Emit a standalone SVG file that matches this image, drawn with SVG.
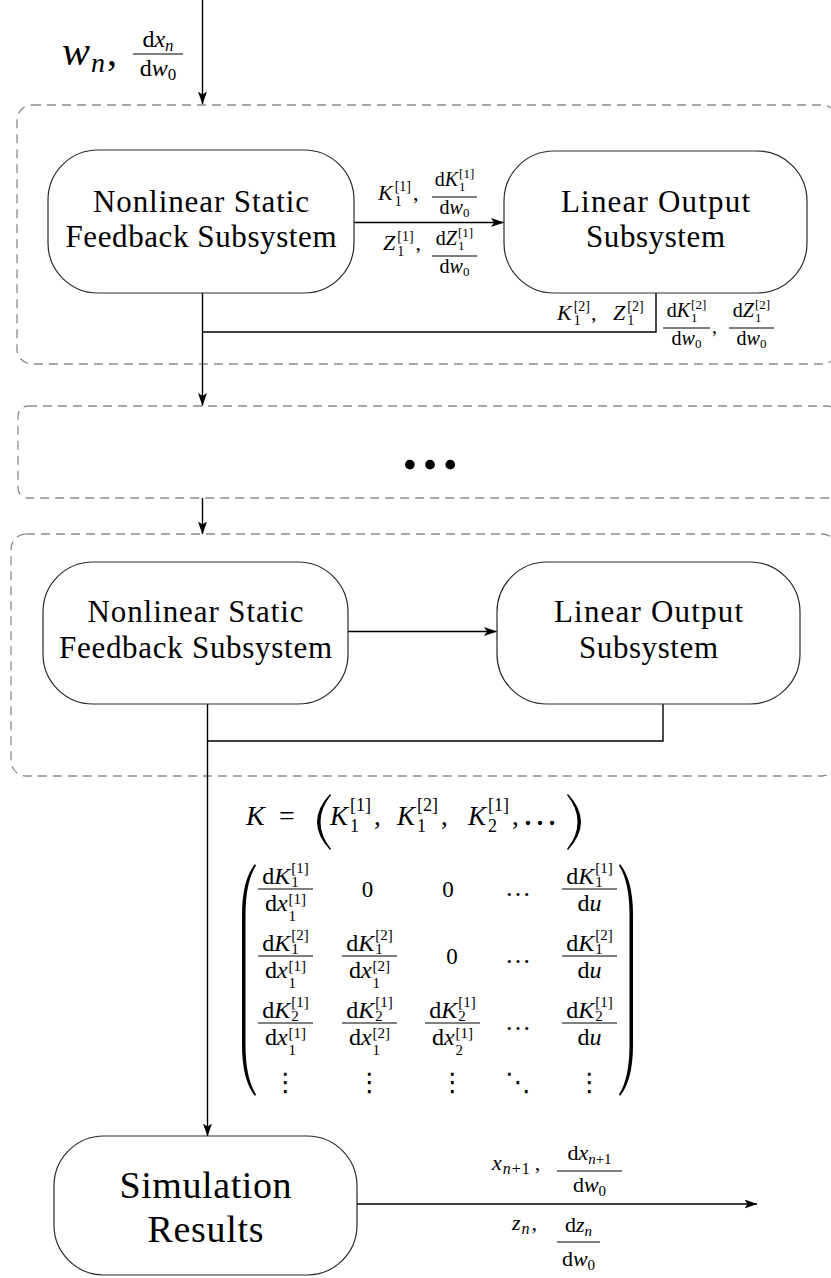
<svg xmlns="http://www.w3.org/2000/svg" width="831" height="1278" viewBox="0 0 831 1278">
<defs>
<marker id="ah" viewBox="0 0 13 9" refX="12.5" refY="4.5" markerWidth="13" markerHeight="9" markerUnits="userSpaceOnUse" orient="auto">
<path d="M0,0 L13,4.5 L0,9 L3,4.5 Z" fill="#000"/>
</marker>
<style>
.t{font-family:"Liberation Serif","Times New Roman",serif;fill:#000}
.i{font-style:italic}
.c{text-anchor:middle}
.grp{fill:none;stroke:#8c8c8c;stroke-width:1.3;stroke-dasharray:9 6}
.node{fill:#fff;stroke:#2a2a2a;stroke-width:1.2}
.ln{fill:none;stroke:#000;stroke-width:1.4}
.bar{stroke:#000;stroke-width:1.1}
.big{font-size:31px}
.dots{font-family:"DejaVu Serif","DejaVu Sans",serif;fill:#000;text-anchor:middle}
</style>
</defs>
<rect x="0" y="0" width="831" height="1278" fill="#fff"/>

<g id="group1"><rect class="grp" x="17" y="105" width="820" height="259" rx="15"/></g>
<g id="group2"><rect class="grp" x="18" y="406" width="819" height="92" rx="10"/>
<text class="t c" x="430" y="469" font-size="60" font-weight="bold">…</text></g>
<g id="group3"><rect class="grp" x="11" y="534" width="826" height="242" rx="15"/></g>

<g id="connectors">
<line class="ln" x1="202.5" y1="0" x2="202.5" y2="104" marker-end="url(#ah)"/>
<line class="ln" x1="354" y1="222.5" x2="503.5" y2="222.5" marker-end="url(#ah)"/>
<line class="ln" x1="202.5" y1="293" x2="202.5" y2="405.5" marker-end="url(#ah)"/>
<polyline class="ln" points="202.5,332 656,332 656,293"/>
<line class="ln" x1="202.5" y1="498" x2="202.5" y2="534" marker-end="url(#ah)"/>
<line class="ln" x1="348" y1="631.5" x2="496.5" y2="631.5" marker-end="url(#ah)"/>
<line class="ln" x1="207.5" y1="704" x2="207.5" y2="1136" marker-end="url(#ah)"/>
<polyline class="ln" points="207.5,741 663,741 663,704"/>
<line class="ln" x1="357" y1="1204" x2="757" y2="1204" marker-end="url(#ah)"/>
</g>

<g id="nsf1"><rect class="node" x="48" y="150" width="306" height="143" rx="50"/>
<text class="t c big" x="201" y="212" textLength="216">Nonlinear Static</text>
<text class="t c big" x="201" y="247" textLength="271">Feedback Subsystem</text></g>
<g id="lo1"><rect class="node" x="504" y="151" width="303" height="142" rx="50"/>
<text class="t c big" x="655.5" y="212" textLength="189">Linear Output</text>
<text class="t c big" x="655.5" y="247" textLength="139">Subsystem</text></g>
<g id="nsf3"><rect class="node" x="43" y="562" width="305" height="142" rx="50"/>
<text class="t c big" x="195.5" y="622" textLength="216">Nonlinear Static</text>
<text class="t c big" x="195.5" y="658" textLength="273">Feedback Subsystem</text></g>
<g id="lo3"><rect class="node" x="497" y="562" width="303" height="142" rx="50"/>
<text class="t c big" x="648.5" y="622" textLength="189">Linear Output</text>
<text class="t c big" x="648.5" y="658" textLength="139">Subsystem</text></g>
<g id="sim"><rect class="node" x="54" y="1136" width="303" height="139" rx="50"/>
<text class="t c" x="205.5" y="1198" font-size="38" textLength="172">Simulation</text>
<text class="t c" x="205.5" y="1242" font-size="38" textLength="116">Results</text></g>

<g id="labels">
<text class="t" y="65"><tspan class="i" x="62" font-size="42">w</tspan><tspan class="i" font-size="28" dx="1" dy="7">n</tspan><tspan font-size="40" dx="2" dy="-7">,</tspan></text>
<text class="t c" x="158" y="47" font-size="24">d<tspan class="i">x</tspan><tspan class="i" font-size="17" dy="4">n</tspan></text>
<line class="bar" x1="133" y1="54" x2="183" y2="54"/>
<text class="t c" x="158" y="76" font-size="24">d<tspan class="i">w</tspan><tspan font-size="17" dy="4">0</tspan></text>

<text class="t" x="378" y="200" font-size="22"><tspan class="i">K</tspan><tspan font-size="14" dx="2" dy="6">1</tspan><tspan font-size="14" dx="-7" dy="-15">[1]</tspan><tspan dx="2" dy="9">,</tspan></text>
<text class="t c" x="454.5" y="186" font-size="20">d<tspan class="i">K</tspan><tspan font-size="13" dx="1" dy="5">1</tspan><tspan font-size="13" dx="-6.5" dy="-13">[1]</tspan></text>
<line class="bar" x1="432" y1="197" x2="477" y2="197"/>
<text class="t c" x="454.5" y="214" font-size="20">d<tspan class="i">w</tspan><tspan font-size="13" dy="3">0</tspan></text>

<text class="t" x="383" y="250" font-size="22"><tspan class="i">Z</tspan><tspan font-size="14" dx="2" dy="6">1</tspan><tspan font-size="14" dx="-7" dy="-15">[1]</tspan><tspan dx="2" dy="9">,</tspan></text>
<text class="t c" x="454.5" y="245" font-size="20">d<tspan class="i">Z</tspan><tspan font-size="13" dx="1" dy="5">1</tspan><tspan font-size="13" dx="-6.5" dy="-13">[1]</tspan></text>
<line class="bar" x1="432" y1="256" x2="477" y2="256"/>
<text class="t c" x="454.5" y="273" font-size="20">d<tspan class="i">w</tspan><tspan font-size="13" dy="3">0</tspan></text>

<text class="t" x="557" y="320" font-size="22"><tspan class="i">K</tspan><tspan font-size="14" dx="2" dy="5">1</tspan><tspan font-size="14" dx="-7" dy="-14">[2]</tspan><tspan dx="1" dy="9">,</tspan></text>
<text class="t" x="613" y="320" font-size="22"><tspan class="i">Z</tspan><tspan font-size="14" dx="2" dy="5">1</tspan><tspan font-size="14" dx="-7" dy="-14">[2]</tspan></text>
<text class="t c" x="686.5" y="317" font-size="20">d<tspan class="i">K</tspan><tspan font-size="13" dx="1" dy="5">1</tspan><tspan font-size="13" dx="-6.5" dy="-13">[2]</tspan></text>
<line class="bar" x1="663" y1="328" x2="710" y2="328"/>
<text class="t c" x="686.5" y="345" font-size="20">d<tspan class="i">w</tspan><tspan font-size="13" dy="3">0</tspan></text>
<text class="t" x="712" y="333" font-size="20">,</text>
<text class="t c" x="751.5" y="317" font-size="20">d<tspan class="i">Z</tspan><tspan font-size="13" dx="1" dy="5">1</tspan><tspan font-size="13" dx="-6.5" dy="-13">[2]</tspan></text>
<line class="bar" x1="729" y1="328" x2="774" y2="328"/>
<text class="t c" x="751.5" y="345" font-size="20">d<tspan class="i">w</tspan><tspan font-size="13" dy="3">0</tspan></text>

<text class="t" y="825" font-size="28"><tspan class="i" x="246">K</tspan><tspan x="279">=</tspan></text>
<path d="M330,794 Q317,808 317,822 Q317,836 330,850 L331,849 Q320.5,836 320.5,822 Q320.5,808 331,795 Z" fill="#000"/>
<text class="t" x="330" y="825" font-size="27"><tspan class="i">K</tspan><tspan font-size="18" dx="2" dy="7">1</tspan><tspan font-size="18" dx="-9" dy="-21">[1]</tspan><tspan dx="3" dy="14">,</tspan></text>
<text class="t" x="397" y="825" font-size="27"><tspan class="i">K</tspan><tspan font-size="18" dx="2" dy="7">1</tspan><tspan font-size="18" dx="-9" dy="-21">[2]</tspan><tspan dx="3" dy="14">,</tspan></text>
<text class="t" x="468" y="825" font-size="27"><tspan class="i">K</tspan><tspan font-size="18" dx="2" dy="7">2</tspan><tspan font-size="18" dx="-9" dy="-21">[1]</tspan><tspan dx="3" dy="14">,</tspan></text>
<text class="t" x="522" y="825" font-size="36">…</text>
<path d="M568,794 Q581,808 581,822 Q581,836 568,850 L567,849 Q577.5,836 577.5,822 Q577.5,808 567,795 Z" fill="#000"/>

<path d="M255,864 Q242,880 242,915 L242,1045 Q242,1080 255,1096 L256,1094.5 Q245.5,1078 245.5,1045 L245.5,915 Q245.5,882 256,865.5 Z" fill="#000"/>
<path d="M620,864 Q633,880 633,915 L633,1045 Q633,1080 620,1096 L619,1094.5 Q629.5,1078 629.5,1045 L629.5,915 Q629.5,882 619,865.5 Z" fill="#000"/>

<text class="t c" x="285.5" y="884" font-size="24">d<tspan class="i">K</tspan><tspan font-size="15" dx="1" dy="3">1</tspan><tspan font-size="15" dx="-7.5" dy="-14">[1]</tspan></text>
<line class="bar" x1="258" y1="889" x2="313" y2="889"/>
<text class="t c" x="285.5" y="911" font-size="24">d<tspan class="i">x</tspan><tspan font-size="15" dx="1" dy="10">1</tspan><tspan font-size="15" dx="-7.5" dy="-17">[1]</tspan></text>
<text class="t c" x="367.5" y="897" font-size="23">0</text>
<text class="t c" x="448" y="897" font-size="23">0</text>
<text class="t c" x="518" y="896" font-size="26">…</text>
<text class="t c" x="589.5" y="884" font-size="24">d<tspan class="i">K</tspan><tspan font-size="15" dx="1" dy="3">1</tspan><tspan font-size="15" dx="-7.5" dy="-14">[1]</tspan></text>
<line class="bar" x1="562" y1="889" x2="617" y2="889"/>
<text class="t c" x="589.5" y="911" font-size="24">d<tspan class="i">u</tspan></text>

<text class="t c" x="285.5" y="951" font-size="24">d<tspan class="i">K</tspan><tspan font-size="15" dx="1" dy="3">1</tspan><tspan font-size="15" dx="-7.5" dy="-14">[2]</tspan></text>
<line class="bar" x1="258" y1="956" x2="313" y2="956"/>
<text class="t c" x="285.5" y="978" font-size="24">d<tspan class="i">x</tspan><tspan font-size="15" dx="1" dy="10">1</tspan><tspan font-size="15" dx="-7.5" dy="-17">[1]</tspan></text>
<text class="t c" x="369.5" y="951" font-size="24">d<tspan class="i">K</tspan><tspan font-size="15" dx="1" dy="3">1</tspan><tspan font-size="15" dx="-7.5" dy="-14">[2]</tspan></text>
<line class="bar" x1="342" y1="956" x2="397" y2="956"/>
<text class="t c" x="369.5" y="978" font-size="24">d<tspan class="i">x</tspan><tspan font-size="15" dx="1" dy="10">1</tspan><tspan font-size="15" dx="-7.5" dy="-17">[2]</tspan></text>
<text class="t c" x="452" y="964" font-size="23">0</text>
<text class="t c" x="518" y="963" font-size="26">…</text>
<text class="t c" x="589.5" y="951" font-size="24">d<tspan class="i">K</tspan><tspan font-size="15" dx="1" dy="3">1</tspan><tspan font-size="15" dx="-7.5" dy="-14">[2]</tspan></text>
<line class="bar" x1="562" y1="956" x2="617" y2="956"/>
<text class="t c" x="589.5" y="978" font-size="24">d<tspan class="i">u</tspan></text>

<text class="t c" x="285.5" y="1018" font-size="24">d<tspan class="i">K</tspan><tspan font-size="15" dx="1" dy="3">2</tspan><tspan font-size="15" dx="-7.5" dy="-14">[1]</tspan></text>
<line class="bar" x1="258" y1="1023" x2="313" y2="1023"/>
<text class="t c" x="285.5" y="1045" font-size="24">d<tspan class="i">x</tspan><tspan font-size="15" dx="1" dy="10">1</tspan><tspan font-size="15" dx="-7.5" dy="-17">[1]</tspan></text>
<text class="t c" x="369.5" y="1018" font-size="24">d<tspan class="i">K</tspan><tspan font-size="15" dx="1" dy="3">2</tspan><tspan font-size="15" dx="-7.5" dy="-14">[1]</tspan></text>
<line class="bar" x1="342" y1="1023" x2="397" y2="1023"/>
<text class="t c" x="369.5" y="1045" font-size="24">d<tspan class="i">x</tspan><tspan font-size="15" dx="1" dy="10">1</tspan><tspan font-size="15" dx="-7.5" dy="-17">[2]</tspan></text>
<text class="t c" x="452.5" y="1018" font-size="24">d<tspan class="i">K</tspan><tspan font-size="15" dx="1" dy="3">2</tspan><tspan font-size="15" dx="-7.5" dy="-14">[1]</tspan></text>
<line class="bar" x1="425" y1="1023" x2="480" y2="1023"/>
<text class="t c" x="452.5" y="1045" font-size="24">d<tspan class="i">x</tspan><tspan font-size="15" dx="1" dy="10">2</tspan><tspan font-size="15" dx="-7.5" dy="-17">[1]</tspan></text>
<text class="t c" x="518" y="1030" font-size="26">…</text>
<text class="t c" x="589.5" y="1018" font-size="24">d<tspan class="i">K</tspan><tspan font-size="15" dx="1" dy="3">2</tspan><tspan font-size="15" dx="-7.5" dy="-14">[1]</tspan></text>
<line class="bar" x1="562" y1="1023" x2="617" y2="1023"/>
<text class="t c" x="589.5" y="1045" font-size="24">d<tspan class="i">u</tspan></text>

<text class="dots" x="285.5" y="1091" font-size="26">⋮</text>
<text class="dots" x="369.5" y="1091" font-size="26">⋮</text>
<text class="dots" x="452.5" y="1091" font-size="26">⋮</text>
<text class="dots" x="518" y="1091" font-size="26">⋱</text>
<text class="dots" x="589.5" y="1091" font-size="26">⋮</text>

<text class="t" x="492" y="1170" font-size="22"><tspan class="i">x</tspan><tspan class="i" font-size="16" dx="1" dy="4">n</tspan><tspan font-size="16" dx="1" letter-spacing="1">+1</tspan><tspan dx="4" dy="-4">,</tspan></text>
<text class="t c" x="589.5" y="1160" font-size="22">d<tspan class="i">x</tspan><tspan class="i" font-size="15" dy="4">n</tspan><tspan font-size="15">+1</tspan></text>
<line class="bar" x1="557" y1="1171" x2="622" y2="1171"/>
<text class="t c" x="589.5" y="1192" font-size="22">d<tspan class="i">w</tspan><tspan font-size="15" dy="4">0</tspan></text>

<text class="t" x="512" y="1230" font-size="22"><tspan class="i">z</tspan><tspan class="i" font-size="16" dx="1" dy="4">n</tspan><tspan dx="2" dy="-4">,</tspan></text>
<text class="t c" x="578.5" y="1232" font-size="22">d<tspan class="i">z</tspan><tspan class="i" font-size="15" dy="4">n</tspan></text>
<line class="bar" x1="557" y1="1242" x2="600" y2="1242"/>
<text class="t c" x="578.5" y="1266" font-size="22">d<tspan class="i">w</tspan><tspan font-size="15" dy="4">0</tspan></text>
</g>
</svg>
